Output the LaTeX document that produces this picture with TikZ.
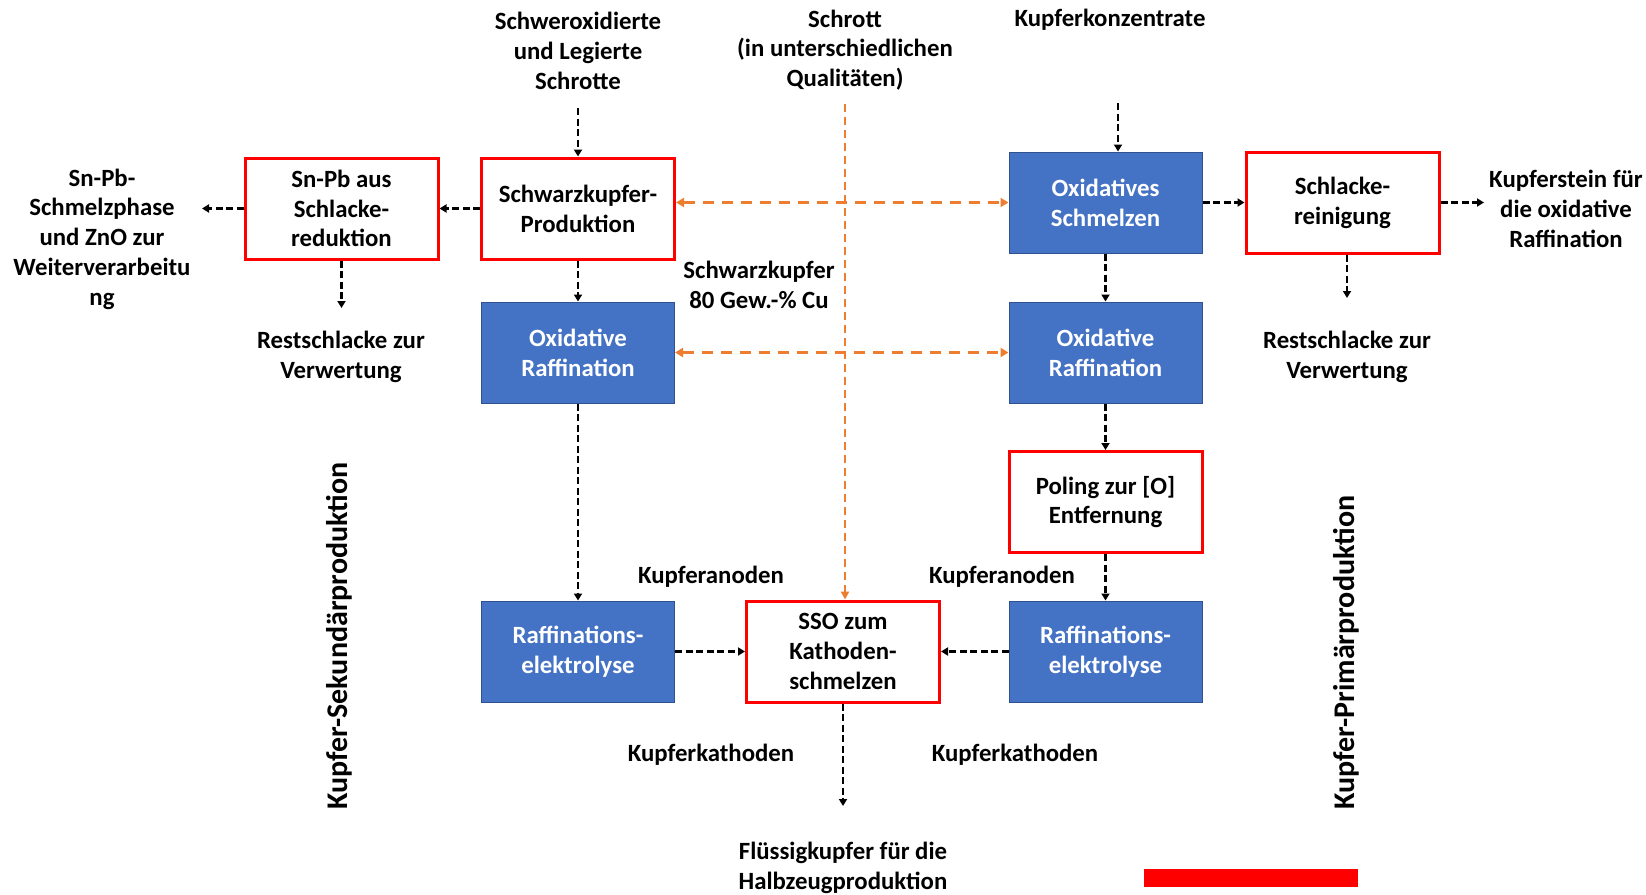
\documentclass[tikz,border=0pt]{standalone}
\usepackage{fontspec}
\setmainfont{Carlito}
\usetikzlibrary{arrows.meta}
\definecolor{boxblue}{HTML}{4472C4}
\definecolor{boxblueline}{HTML}{2F528F}
\definecolor{flowred}{HTML}{FF0000}
\definecolor{floworange}{HTML}{ED7D31}
\begin{document}
\begin{tikzpicture}[x=1pt,y=-1pt,
  base/.style={font=\fontsize{24.8}{29.8}\selectfont\bfseries, align=center, inner sep=0pt},
  redbox/.style={base, draw=flowred, line width=3pt, fill=white, minimum width=193pt, minimum height=101pt},
  bluebox/.style={base, draw=boxblueline, line width=1pt, fill=boxblue, text=white, minimum width=193pt, minimum height=101pt},
  lbl/.style={base},
  sidelbl/.style={font=\fontsize{30}{36}\selectfont\bfseries, inner sep=0pt, rotate=90, anchor=west},
  flow/.style={black, line width=2.7pt, dash pattern=on 7pt off 3.5pt, -{Triangle[length=7pt,width=8pt]}},
  oflow/.style={floworange, line width=2pt, dash pattern=on 8pt off 5pt, -{Triangle[length=8pt,width=8pt]}},
  oflowboth/.style={floworange, line width=3pt, dash pattern=on 11pt off 8pt, {Triangle[length=8pt,width=9pt]}-{Triangle[length=8pt,width=9pt]}}
]
\useasboundingbox (0,0) rectangle (1646,894);

% boxes
\node[redbox]  (snpb)  at (341.5,208.5) {Sn-Pb aus\\Schlacke-\\reduktion};
\node[redbox]  (sk)    at (578,208.5)   {Schwarzkupfer-\\Produktion};
\node[bluebox] (orl)   at (578,352.5)   {Oxidative\\Raffination};
\node[bluebox] (rel)   at (578,651.5)   {Raffinations-\\elektrolyse};
\node[redbox]  (sso)   at (843,651.5)   {SSO zum\\Kathoden-\\schmelzen};
\node[bluebox] (rer)   at (1105.5,651.5){Raffinations-\\elektrolyse};
\node[redbox]  (pol)   at (1105.5,502)  {Poling zur [O]\\Entfernung};
\node[bluebox] (orr)   at (1105.5,352.5){Oxidative\\Raffination};
\node[bluebox] (osm)   at (1105.5,202.5){Oxidatives\\Schmelzen};
\node[redbox]  (slr)   at (1342.5,202.5){Schlacke-\\reinigung};

% labels
\node[lbl] (snpbtxt) at (102,239) {Sn-Pb-\\Schmelzphase\\und ZnO zur\\Weiterverarbeitu\\ng};
\node[lbl] (rest1)   at (341,357) {Restschlacke zur\\Verwertung};
\node[lbl] (schwer)  at (578,51)  {Schweroxidierte\\und Legierte\\Schrotte};
\node[lbl] (schrott) at (845,50)  {Schrott\\(in unterschiedlichen\\Qualitäten)};
\node[lbl] (kkonz)   at (1110,20) {Kupferkonzentrate};
\node[lbl] (kstein)  at (1566,209) {Kupferstein für\\die oxidative\\Raffination};
\node[lbl] (rest2)   at (1347,357) {Restschlacke zur\\Verwertung};
\node[lbl] (sk80)    at (759,285) {Schwarzkupfer\\80 Gew.-\% Cu};
\node[lbl] (anod1)   at (711,577) {Kupferanoden};
\node[lbl] (anod2)   at (1002,577) {Kupferanoden};
\node[lbl] (kath1)   at (711,755) {Kupferkathoden};
\node[lbl] (kath2)   at (1015,755) {Kupferkathoden};
\node[lbl] (fluessig) at (843,868) {Flüssigkupfer für die\\Halbzeugproduktion};
\node[sidelbl] (sek)  at (339,810) {Kupfer-Sekundärproduktion};
\node[sidelbl] (prim) at (1346,810) {Kupfer-Primärproduktion};

% red bar
\fill[flowred] (1144,869) rectangle (1358,887);

% free ends
\coordinate (skin)   at (578,108);
\coordinate (snpbout) at (202,208.5);
\coordinate (snpbdn) at (341.5,308);
\coordinate (ssodn)  at (843,806);
\coordinate (kkin)   at (1118,103);
\coordinate (slrout) at (1484,202.5);
\coordinate (slrdn)  at (1347,298);
\coordinate (schrottin) at (845,104);

% black flows
\draw[flow] (skin) -- (sk.north);
\draw[flow] (sk.west) -- (snpb.east);
\draw[flow] (snpb.west) -- (snpbout);
\draw[flow] (snpb.south) -- (snpbdn);
\draw[flow] (sk.south) -- (orl.north);
\draw[flow] (orl.south) -- (rel.north);
\draw[flow] (rel.east) -- (sso.west);
\draw[flow] (rer.west) -- (sso.east);
\draw[flow] (sso.south) -- (ssodn);
\draw[flow] (kkin) -- (kkin |- osm.north);
\draw[flow] (osm.east) -- (slr.west);
\draw[flow] (slr.east) -- (slrout);
\draw[flow] (slrdn |- slr.south) -- (slrdn);
\draw[flow] (osm.south) -- (orr.north);
\draw[flow] (orr.south) -- (pol.north);
\draw[flow] (pol.south) -- (rer.north);

% orange flows
\draw[oflow] (schrottin) -- (schrottin |- sso.north);
\draw[oflowboth] (sk.east |- osm.west) -- (osm.west);
\draw[oflowboth] (orl.east) -- (orr.west);
\end{tikzpicture}
\end{document}
